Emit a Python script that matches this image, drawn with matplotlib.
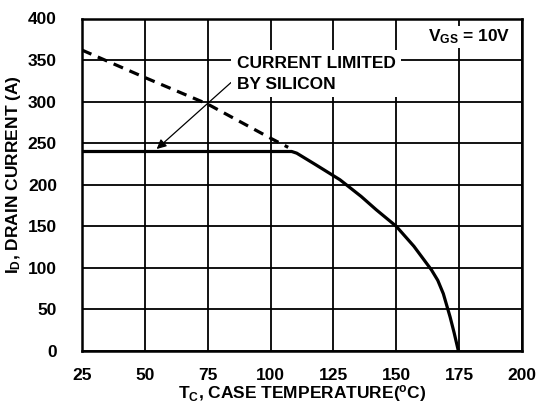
import matplotlib as mpl
import matplotlib.pyplot as plt

# package / silicon limited current vs case temperature
temp_dashed = [25, 50, 75, 100, 107]
id_dashed = [362, 329, 297, 256, 245]

temp_solid = [25, 108.4, 110.4, 118, 127.6, 136, 142, 150, 157, 164, 166.5, 168.7, 171.4, 173, 174.7]
id_solid = [240, 240, 238, 224, 206, 186, 170, 150, 126, 97.5, 85, 69, 41, 22, 0]

x_ticks = [25, 50, 75, 100, 125, 150, 175, 200]
y_ticks = [0, 50, 100, 150, 200, 250, 300, 350, 400]

mpl.rcParams.update({
    'font.family': 'Liberation Sans',
    'font.weight': 'bold',
    'font.size': 12.5,
    'mathtext.fontset': 'custom',
    'mathtext.rm': 'Liberation Sans:bold',
    'mathtext.bf': 'Liberation Sans:bold',
    'mathtext.it': 'Liberation Sans:bold',
})

dpi = 100
fig = plt.figure(dpi=dpi, figsize=(539 / dpi, 413 / dpi))
ax = fig.add_axes([82 / 539, 1 - 351 / 413, 440 / 539, 332.5 / 413])

ax.plot(temp_dashed, id_dashed, color='black', lw=2.3, ls=(0, (3.2, 2.2)), zorder=3)
ax.plot(temp_solid, id_solid, color='black', lw=2.3, zorder=4)

ax.set_xlim(25, 200)
ax.set_ylim(0, 400)
ax.set_xticks(x_ticks)
ax.set_yticks(y_ticks)
ax.tick_params(length=0, labelsize=12.5)
ax.tick_params(axis='x', pad=12)
ax.tick_params(axis='y', pad=18)
for lab in ax.get_xticklabels() + ax.get_yticklabels():
    lab.set_fontweight('bold')
ax.grid(True, color='black', lw=1.3)
for s in ax.spines.values():
    s.set_linewidth(1.8)

ax.set_xlabel(r'$\mathbf{T_C}$, CASE TEMPERATURE($^{\mathbf{o}}$C)', fontsize=12.5, fontweight='bold', labelpad=0)
ax.set_ylabel(r'$\mathbf{I_D}$, DRAIN CURRENT (A)', fontsize=12.5, fontweight='bold')
ax.yaxis.set_label_coords(-0.134, 0.532)

ax.annotate('CURRENT LIMITED\nBY SILICON', xy=(54.7, 243), xytext=(86.5, 355),
            fontsize=12.5, fontweight='bold', ha='left', va='top', linespacing=1.5,
            bbox=dict(facecolor='white', edgecolor='none', pad=4),
            arrowprops=dict(arrowstyle='-|>', color='black', lw=0.9,
                            mutation_scale=14, shrinkA=0, shrinkB=0,
                            relpos=(0, 0.4)),
            zorder=5)

ax.text(195.3, 372, r'$\mathbf{V_{GS}}$ = 10V', fontsize=12.5, fontweight='bold',
        ha='right', va='baseline',
        bbox=dict(facecolor='white', edgecolor='none', pad=1), zorder=5)

fig.savefig('out.png', dpi=dpi)
